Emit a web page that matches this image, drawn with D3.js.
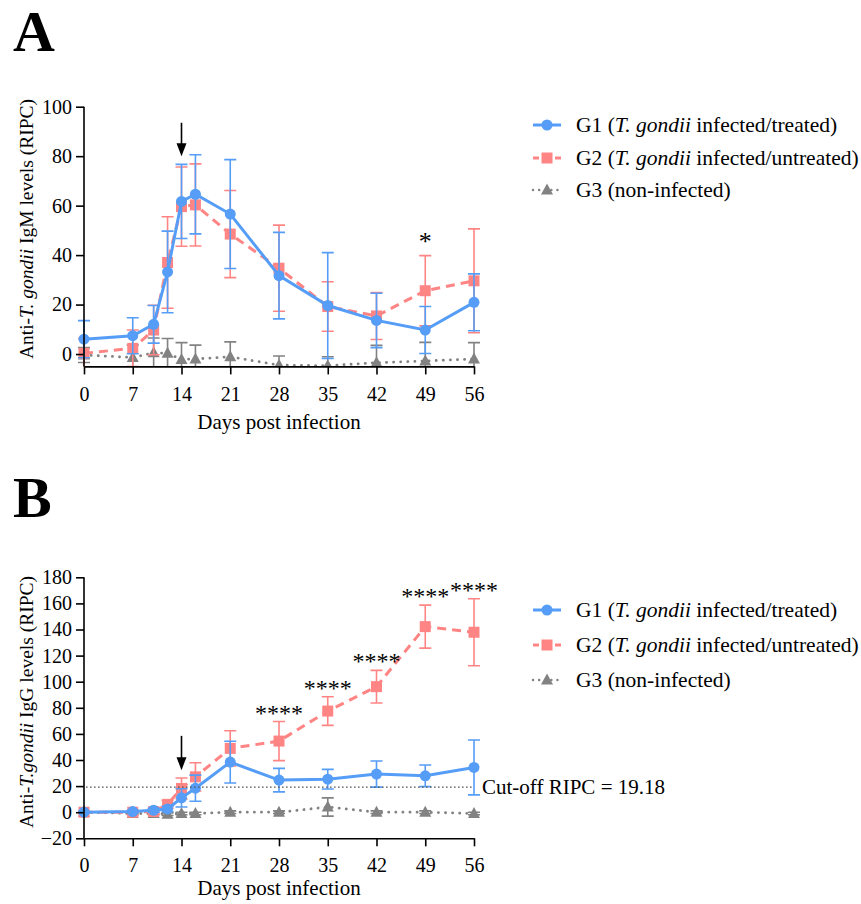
<!DOCTYPE html>
<html>
<head>
<meta charset="utf-8">
<script src="https://cdn.jsdelivr.net/npm/d3@7"></script>
<style>
  body { margin: 0; background: #fff; }
  svg { display: block; }
  svg text { font-family: "Liberation Serif", "Times New Roman", Times, serif !important; fill: #000; }
</style>
</head>
<body>
<svg id="chart" width="861" height="904"></svg>
<script>
// ---------------- data ----------------
const days = [0, 7, 10, 12, 14, 16, 21, 28, 35, 42, 49, 56];
const xTicks = [0, 7, 14, 21, 28, 35, 42, 49, 56];

// Panel A : IgM
const igmTicks = [0, 20, 40, 60, 80, 100];
const igmG1 = [6, 7.4, 12, 33.2, 61.7, 64.6, 56.6, 31.7, 19.6, 13.6, 9.7, 20.9];
const igmG1Sd = [7.5, 7.3, 7.6, 16.5, 15, 16, 22, 17.5, 21.4, 11, 9.5, 11.5];
const igmG2 = [0.3, 2.3, 9.7, 37, 59.6, 60.3, 48.5, 34.7, 19.2, 15.4, 25.6, 29.6];
const igmG2Sd = [6, 7.4, 10, 18.5, 16, 16.6, 17.6, 17.4, 10, 9.5, 14.2, 21];
const igmG3 = [-0.4, -1.4, 0.5, 0.3, -2.2, -2, -1.1, -4.5, -4.7, -3.5, -2.8, -2];
const igmG3Sd = [3, 5, 6, 6, 6.8, 5.6, 6, 3.7, 3.6, 7, 7.5, 6.6];
const sigDaysA = [49];
const sigLabelsA = ["*"];

// Panel B : IgG
const iggTicks = [-20, 0, 20, 40, 60, 80, 100, 120, 140, 160, 180];
const iggG1 = [0, 0.5, 1.5, 2.5, 11, 18.4, 38.4, 24.6, 25.3, 29.2, 27.9, 34.3];
const iggG1Sd = [0.5, 1, 1.5, 2, 7, 10, 16, 9, 7.5, 10, 8.3, 21];
const iggG2 = [0, 0, 0.5, 6, 18.2, 27.1, 48.9, 54.5, 77.5, 96.2, 142.2, 137.9];
const iggG2Sd = [0.5, 1, 2, 3, 8, 10.8, 13.5, 15, 11, 12.5, 16.5, 25.7];
const iggG3 = [0, -1, -1, -1.5, -1, -1, 0, 0, 4, 0, 0, -1];
const iggG3Sd = [0.5, 1, 1, 1, 1, 1, 1, 1, 7, 1, 1, 1];
const sigDaysB = [28, 35, 42, 49, 56];
const sigLabelsB = ["****", "****", "****", "****", "****"];
const cutoff = 19.18;
const cutoffLabel = "Cut-off RIPC = 19.18";

const arrowDay = 14;
const arrowA = [93.5, 80];
const arrowB = [58.5, 32.2];

const legendNames = [
  [["G1 (", false], ["T. gondii", true], [" infected/treated)", false]],
  [["G2 (", false], ["T. gondii", true], [" infected/untreated)", false]],
  [["G3 (non-infected)", false]]
];

// ---------------- styles ----------------
const FONT = "'Liberation Serif', 'Times New Roman', Times, serif";
const C1 = "#559DF6", C2 = "#FF8585", C3 = "#828282";
const svg = d3.select("#chart");
let clipId = 0;

function drawPanel(o) {
  const g = svg.append("g");
  const x = d3.scaleLinear().domain([0, 56]).range([84, 474]);
  const y = d3.scaleLinear().domain(o.yDomain).range(o.yRange);

  const cid = "clip" + (clipId++);
  g.append("clipPath").attr("id", cid).append("rect")
    .attr("x", 70).attr("y", o.yRange[1] - 40)
    .attr("width", 420).attr("height", o.yRange[0] - o.yRange[1] + 40);
  const plot = g.append("g").attr("clip-path", `url(#${cid})`);

  // cut-off line
  if (o.cutoff !== undefined) {
    g.append("line")
      .attr("x1", x(0) + 2).attr("x2", x(56))
      .attr("y1", y(o.cutoff)).attr("y2", y(o.cutoff))
      .attr("stroke", "#555").attr("stroke-width", 1.3)
      .attr("stroke-dasharray", "1.6,2.4");
    g.append("text").attr("x", x(56) + 8).attr("y", y(o.cutoff) + 7)
      .attr("font-size", 21).style("font-family", FONT).text(o.cutoffLabel);
  }

  const series = [
    { m: o.g3, s: o.g3s, c: C3, dash: "0.1,7", w: 2.8, sym: "tri" },
    { m: o.g2, s: o.g2s, c: C2, dash: "9,6", w: 3, sym: "sq" },
    { m: o.g1, s: o.g1s, c: C1, dash: null, w: 3, sym: "circ" }
  ];

  series.forEach(sr => {
    const d = days.map((dd, i) => ({ d: dd, m: sr.m[i], s: sr.s[i] }));
    const eg = plot.append("g").attr("stroke", sr.c).attr("stroke-width", 1.6);
    d.forEach(p => {
      eg.append("line").attr("x1", x(p.d)).attr("x2", x(p.d))
        .attr("y1", y(p.m - p.s)).attr("y2", y(p.m + p.s));
      [p.m - p.s, p.m + p.s].forEach(v => {
        eg.append("line").attr("x1", x(p.d) - 6).attr("x2", x(p.d) + 6)
          .attr("y1", y(v)).attr("y2", y(v));
      });
    });
    const line = d3.line().x(p => x(p.d)).y(p => y(p.m));
    const path = plot.append("path").datum(d).attr("d", line)
      .attr("fill", "none").attr("stroke", sr.c).attr("stroke-width", sr.w)
      .attr("stroke-linecap", sr.sym === "tri" ? "round" : "butt");
    if (sr.dash) path.attr("stroke-dasharray", sr.dash);
    d.forEach(p => drawSym(plot, sr.sym, x(p.d), y(p.m), sr.c));
  });

  // axes
  const ya = g.append("g").attr("transform", `translate(${x(0)},0)`)
    .call(d3.axisLeft(y).tickValues(o.yTicks).tickSize(8).tickSizeOuter(0).tickPadding(4));
  const xa = g.append("g").attr("transform", `translate(0,${o.yRange[0]})`)
    .call(d3.axisBottom(x).tickValues(xTicks).tickSize(8).tickSizeOuter(0).tickPadding(12));
  [ya, xa].forEach(a => {
    a.attr("font-family", null).attr("font-size", null);
    a.selectAll("path, line").attr("stroke", "#000").attr("stroke-width", 1.6);
    a.selectAll("text").attr("font-size", 20).style("font-family", FONT).attr("fill", "#000");
  });
  ya.select(".domain").attr("d", `M0,${o.yRange[0]}V${o.yRange[1]}`);

  // axis titles
  g.append("text").attr("x", (x(0) + x(56)) / 2).attr("y", o.xTitleY)
    .attr("text-anchor", "middle").attr("font-size", 21).style("font-family", FONT)
    .text("Days post infection");
  const yt = g.append("text")
    .attr("transform", `translate(33,${o.yTitleY}) rotate(-90)`)
    .attr("text-anchor", "middle").attr("font-size", o.yTitleSize).style("font-family", FONT);
  o.yTitle.forEach(([t, it]) => yt.append("tspan").attr("font-style", it ? "italic" : "normal").text(t));

  // arrow
  const ax = x(arrowDay);
  g.append("line").attr("x1", ax).attr("x2", ax)
    .attr("y1", y(o.arrow[0])).attr("y2", y(o.arrow[1]) - 10)
    .attr("stroke", "#000").attr("stroke-width", 1.6);
  g.append("path")
    .attr("d", `M${ax - 5},${y(o.arrow[1]) - 13}L${ax + 5},${y(o.arrow[1]) - 13}L${ax},${y(o.arrow[1])}Z`)
    .attr("fill", "#000");

  // significance
  o.sigDays.forEach((sd, i) => {
    const idx = days.indexOf(sd);
    g.append("text").attr("x", x(sd)).attr("y", y(o.g2[idx] + o.g2s[idx]) - o.sigOff)
      .attr("text-anchor", "middle").attr("font-size", o.sigSize).style("font-family", FONT)
      .text(o.sigLabels[i]);
  });

  // title letter
  g.append("text").attr("x", 13).attr("y", o.letterY).attr("font-size", 58)
    .attr("font-weight", "bold").style("font-family", FONT).text(o.letter);

  // legend
  const lc = [C1, C2, C3], ls = ["circ", "sq", "tri"];
  o.legendY.forEach((ly, i) => {
    const l = g.append("line").attr("x1", 533).attr("x2", 561).attr("y1", ly).attr("y2", ly)
      .attr("stroke", lc[i]).attr("stroke-width", i === 2 ? 2.4 : 3)
      .attr("stroke-linecap", i === 2 ? "round" : "butt");
    if (i === 1) l.attr("stroke-dasharray", "6,16,6");
    if (i === 2) l.attr("stroke-dasharray", "0.1,6");
    drawSym(g, ls[i], 547, ly, lc[i]);
    const t = g.append("text").attr("x", 576).attr("y", ly + 7).attr("font-size", 21.5)
      .style("font-family", FONT);
    legendNames[i].forEach(([s, it]) => t.append("tspan").attr("font-style", it ? "italic" : "normal").text(s));
  });
}

function drawSym(g, sym, cx, cy, c) {
  if (sym === "circ") g.append("circle").attr("cx", cx).attr("cy", cy).attr("r", 5.5).attr("fill", c);
  else if (sym === "sq") g.append("rect").attr("x", cx - 5.5).attr("y", cy - 5.5).attr("width", 11).attr("height", 11).attr("fill", c);
  else g.append("path").attr("d", `M${cx},${cy - 6.5}L${cx + 6},${cy + 4.5}L${cx - 6},${cy + 4.5}Z`).attr("fill", c);
}

drawPanel({
  letter: "A", letterY: 51,
  yDomain: [-5, 100], yRange: [366.4, 106.7], yTicks: igmTicks,
  g1: igmG1, g1s: igmG1Sd, g2: igmG2, g2s: igmG2Sd, g3: igmG3, g3s: igmG3Sd,
  xTitleY: 428.5, yTitleY: 229, yTitleSize: 19.5,
  yTitle: [["Anti-", false], ["T. gondii", true], [" IgM levels (RIPC)", false]],
  arrow: arrowA, sigDays: sigDaysA, sigLabels: sigLabelsA, sigOff: 6, sigSize: 26,
  legendY: [125, 158, 190]
});

drawPanel({
  letter: "B", letterY: 517,
  yDomain: [-20, 180], yRange: [838.3, 577.3], yTicks: iggTicks,
  g1: iggG1, g1s: iggG1Sd, g2: iggG2, g2s: iggG2Sd, g3: iggG3, g3s: iggG3Sd,
  xTitleY: 895, yTitleY: 702, yTitleSize: 19.5,
  yTitle: [["Anti-", false], ["T.gondii", true], [" IgG levels (RIPC)", false]],
  cutoff: cutoff, cutoffLabel: cutoffLabel,
  arrow: arrowB, sigDays: sigDaysB, sigLabels: sigLabelsB, sigOff: 1, sigSize: 24,
  legendY: [610, 645, 680]
});
</script>
</body>
</html>
